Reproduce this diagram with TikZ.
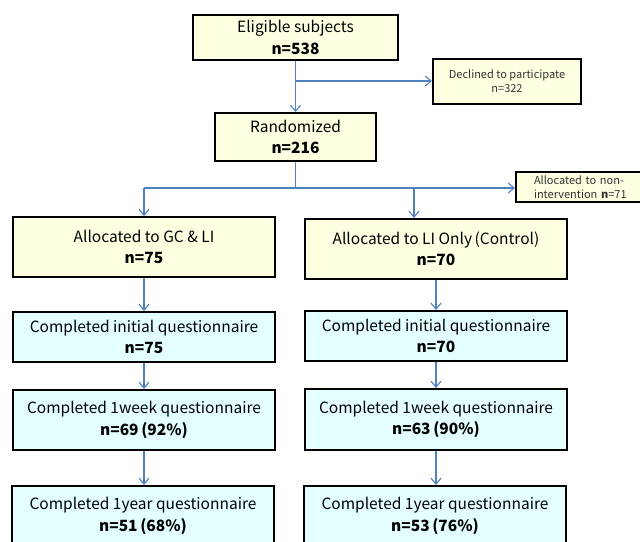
\documentclass[tikz,border=0pt]{standalone}
\usepackage{fontspec}
\setmainfont{Noto Sans CJK JP}
\usetikzlibrary{arrows.meta}
\definecolor{boxyellow}{RGB}{255,255,226}
\definecolor{boxcyan}{RGB}{228,255,255}
\definecolor{arrowblue}{RGB}{79,129,189}
\tikzset{
  basebox/.style={draw=black, line width=2pt, inner sep=0pt, align=center, font=\fontsize{15.5}{21.5}\selectfont},
  ybox/.style={basebox, fill=boxyellow},
  cbox/.style={basebox, fill=boxcyan},
  smallbox/.style={draw=black, line width=2pt, fill=boxyellow, inner sep=0pt, align=center, text=black!80, font=\fontsize{11}{14}\selectfont},
  conn/.style={draw=arrowblue, line width=1.2pt},
  arr/.style={conn, -{Straight Barb[length=6pt,width=10pt,line width=1.1pt]}}
}
\begin{document}
\begin{tikzpicture}[x=1pt,y=-1pt]
\useasboundingbox (0,0) rectangle (640,541);
\fill[white] (0,0) rectangle (640,541);
\clip (0,0) rectangle (640,541);
% boxes
\node[ybox, minimum width=205, minimum height=45] (elig) at (295.5,37.5) {Eligible subjects\\\textbf{n=538}};
\node[smallbox, minimum width=148, minimum height=45] (decl) at (507,81.5) {Declined to participate\\n=322};
\node[ybox, minimum width=161, minimum height=48] (rand) at (295.5,137) {Randomized\\\textbf{n=216}};
\node[smallbox, anchor=west, minimum height=30, text width=110pt, inner xsep=18pt, align=left, font=\fontsize{11}{13.5}\selectfont] (nonint) at (515,187) {Allocated to non-\\intervention \textbf{n}=71};
\node[ybox, minimum width=262, minimum height=60] (gc) at (144,247) {Allocated to GC \& LI\\\textbf{n=75}};
\node[ybox, minimum width=262, minimum height=60] (ctrl) at (436,249) {Allocated to LI Only\,(Control)\\\textbf{n=70}};
\node[cbox, minimum width=262, minimum height=50] (gci) at (144,337) {Completed initial questionnaire\\\textbf{n=75}};
\node[cbox, minimum width=262, minimum height=50] (cti) at (436,336) {Completed initial questionnaire\\\textbf{n=70}};
\node[cbox, minimum width=262, minimum height=60] (gcw) at (144,420) {Completed 1week questionnaire\\\textbf{n=69\,(92\%)}};
\node[cbox, minimum width=262, minimum height=61] (ctw) at (436,419.5) {Completed 1week questionnaire\\\textbf{n=63\,(90\%)}};
\node[cbox, minimum width=262, minimum height=60] (gcy) at (143,516) {Completed 1year questionnaire\\\textbf{n=51\,(68\%)}};
\node[cbox, minimum width=262, minimum height=60] (cty) at (435,516) {Completed 1year questionnaire\\\textbf{n=53\,(76\%)}};
% connectors
\coordinate (b1) at (295.5,81);
\coordinate (b2) at (295.5,188);
\coordinate (bl) at (144,188);
\coordinate (br) at (414,188);
\draw[arr] (elig.south) -- (rand.north);
\draw[arr] (b1) -- (decl.west |- b1);
\draw[conn] (rand.south) -- (b2);
\draw[arr] (bl) -- (nonint.west |- bl);
\draw[arr] (bl) -- (gc.north);
\draw[arr] (br) -- (br |- ctrl.north);
\draw[arr] (gc.south) -- (gci.north);
\draw[arr] (ctrl.south) -- (cti.north);
\draw[arr] (gci.south) -- (gcw.north);
\draw[arr] (cti.south) -- (ctw.north);
\draw[arr] (gcw.south) -- (gcy.north -| gcw.south);
\draw[arr] (ctw.south) -- (cty.north -| ctw.south);
\end{tikzpicture}
\end{document}
